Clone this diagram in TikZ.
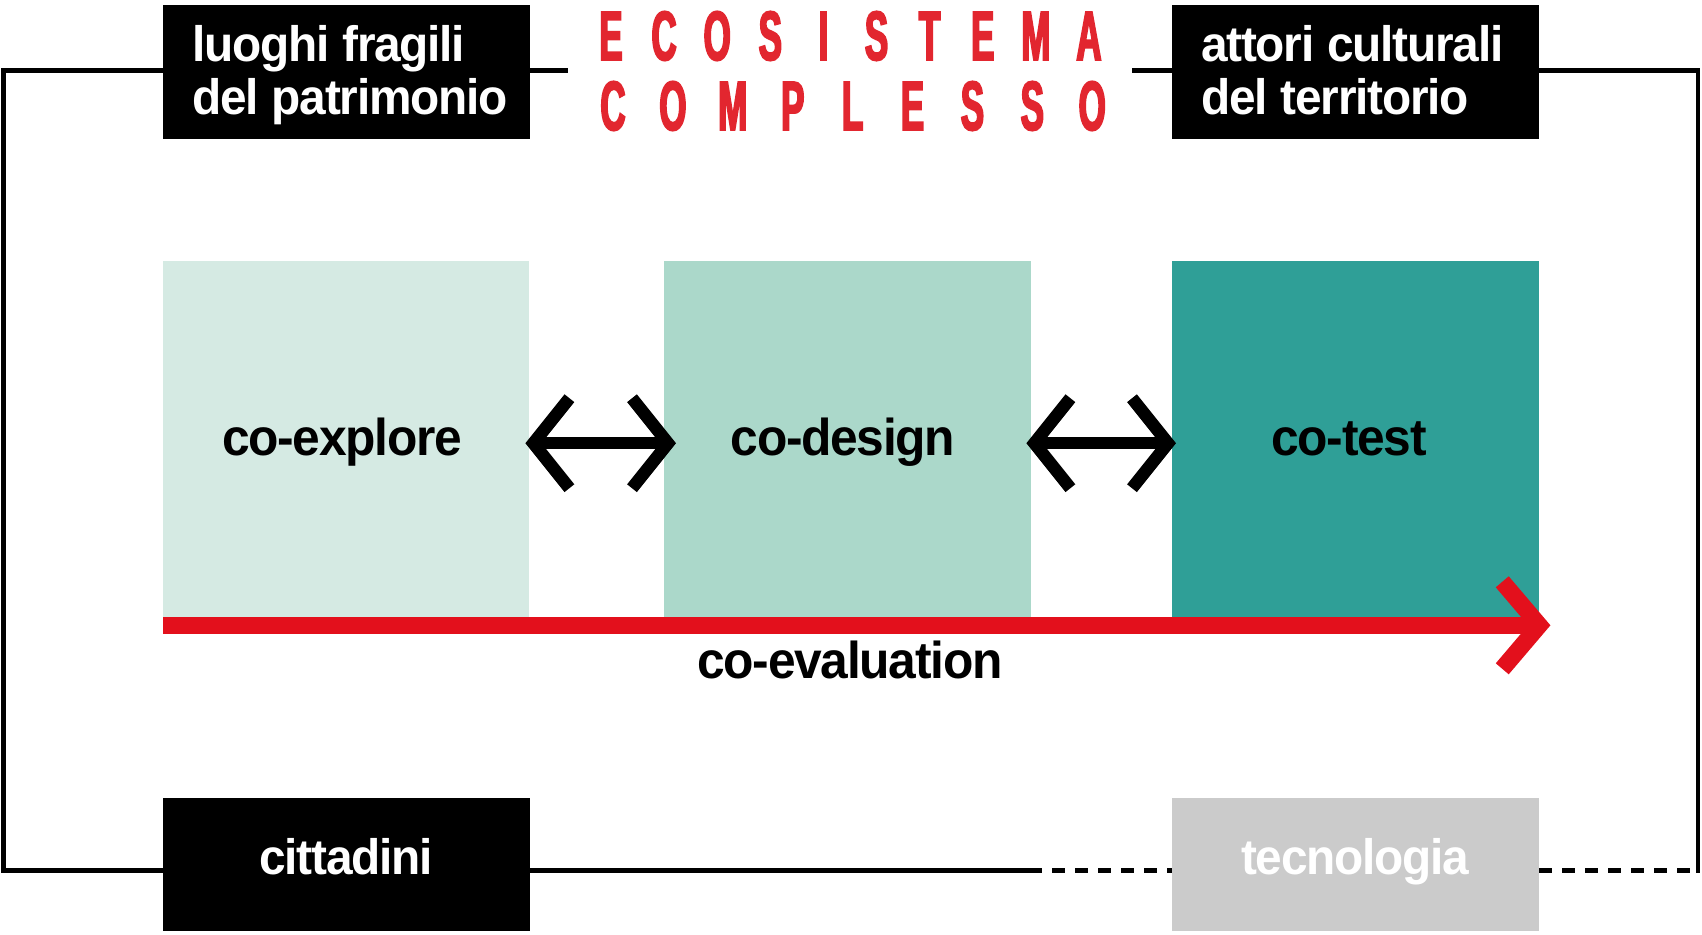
\documentclass[tikz,border=0pt]{standalone}
\usepackage{fontspec}
\usetikzlibrary{arrows.meta}
\setmainfont{Liberation Sans}
\newfontfamily\lblfont[FakeStretch=0.96,LetterSpace=-2.5]{Liberation Sans Bold}
\newfontfamily\ttlfont[FakeStretch=0.5,FakeBold=2.5]{Liberation Sans Bold}
\newcommand\wsp{\hspace{13bp}}
\definecolor{exploreC}{HTML}{D5EAE3}
\definecolor{designC}{HTML}{ABD8CA}
\definecolor{testC}{HTML}{2F9F97}
\definecolor{arrowred}{HTML}{E3101C}
\definecolor{titlered}{HTML}{E2262F}
\definecolor{techgray}{HTML}{CBCBCB}
\begin{document}
\begin{tikzpicture}[x=1bp,y=-1bp,
  blackbox/.style={rectangle, fill=black, inner sep=0pt, minimum width=367bp, minimum height=134bp, anchor=north west},
  graybox/.style={blackbox, fill=techgray},
  phasebox/.style={rectangle, inner sep=0pt, minimum height=356bp, anchor=north west},
  boxlabel/.style={text=white, inner sep=0pt, font=\lblfont\fontsize{50}{54}\selectfont},
  phaselabel/.style={text=black, inner sep=0pt, font=\lblfont\fontsize{52}{56}\selectfont},
  ttl/.style={text=titlered, inner sep=0pt, font=\ttlfont\fontsize{70}{70}\selectfont},
  frame/.style={line width=4.5bp, draw=black, line join=miter},
  framedash/.style={frame, line width=5bp, dash pattern=on 13bp off 10bp},
  dblarrow/.style={line width=12.5bp, draw=black, {Straight Barb[length=36bp,width=90bp]}-{Straight Barb[length=36bp,width=90bp]}},
  redarrow/.style={line width=17bp, draw=arrowred, -{Straight Barb[length=37bp,width=87bp]}}
]
\useasboundingbox (0,0) rectangle (1702,934);
\fill[white] (0,0) rectangle (1702,934);

% corner / free-end coordinates of the frame
\coordinate (tl) at (3.5,70.6);
\coordinate (bl) at (3.5,870.6);
\coordinate (tr) at (1698,70.6);
\coordinate (br) at (1698,870.6);
\coordinate (tm1) at (568,70.6);
\coordinate (tm2) at (1132,70.6);
\coordinate (bm) at (1042,870.6);
\coordinate (bd) at (1052,870.6);

% boxes
\node[blackbox] (luoghi) at (163,5) {};
\node[blackbox] (attori) at (1172,5) {};
\node[blackbox, minimum height=133bp] (cittadini) at (163,798) {};
\node[graybox, minimum height=133bp] (tecnologia) at (1172,798) {};

% frame lines
\draw[frame] (tl -| luoghi.west) -- (tl) -- (bl) -- (bl -| cittadini.west);
\draw[frame] (tl -| luoghi.east) -- (tm1);
\draw[frame] (tm2) -- (tl -| attori.west);
\draw[frame] (tl -| attori.east) -- (tr) -- ([shift={(0,2.5)}]br);
\draw[frame] (bl -| cittadini.east) -- (bm);
\draw[framedash] (bd) -- (bl -| tecnologia.west);
\draw[framedash] (bl -| tecnologia.east) -- (br);

% box labels
\node[boxlabel, anchor=base west, text width=340bp, align=left] (luoghiT) at (192,61) {luoghi\wsp fragili\\del\wsp patrimonio};
\node[boxlabel, anchor=base west, text width=340bp, align=left] (attoriT) at (1201,61) {attori\wsp culturali\\del\wsp territorio};
\node[boxlabel, anchor=base] (cittadiniT) at (346,874) {cittadini};
\node[boxlabel, anchor=base] (tecnologiaT) at (1355,874) {tecnologia};

% title
\foreach \ch [count=\i from 0] in {E,C,O,S,I,S,T,E,M,A}
  \node[ttl, anchor=base] (ta\i) at (611+53.1*\i,60) {\ch};
\foreach \ch [count=\i from 0] in {C,O,M,P,L,E,S,S,O}
  \node[ttl, anchor=base] (tb\i) at (613+59.9*\i,130) {\ch};

% phase boxes
\node[phasebox, fill=exploreC, minimum width=366bp] (explore) at (163,260.5) {};
\node[phasebox, fill=designC, minimum width=367bp] (design) at (664,260.5) {};
\node[phasebox, fill=testC, minimum width=367bp] (test) at (1172,260.5) {};

\node[phaselabel, anchor=base] (exploreT) at (342,455) {co-explore};
\node[phaselabel, anchor=base] (designT) at (843,455) {co-design};
\node[phaselabel, anchor=base] (testT) at (1349,455) {co-test};

% arrows
\draw[dblarrow] ([shift={(-4,4.5)}]explore.east) -- ([shift={(12,4.5)}]design.west);
\draw[dblarrow] ([shift={(-5,4.5)}]design.east) -- ([shift={(4,4.5)}]test.west);
\draw[redarrow] ([shift={(0,8.4)}]explore.south west) -- ([shift={(11,8.4)}]test.south east);

\node[phaselabel, anchor=base] (evalT) at (850,678) {co-evaluation};
\end{tikzpicture}
\end{document}
